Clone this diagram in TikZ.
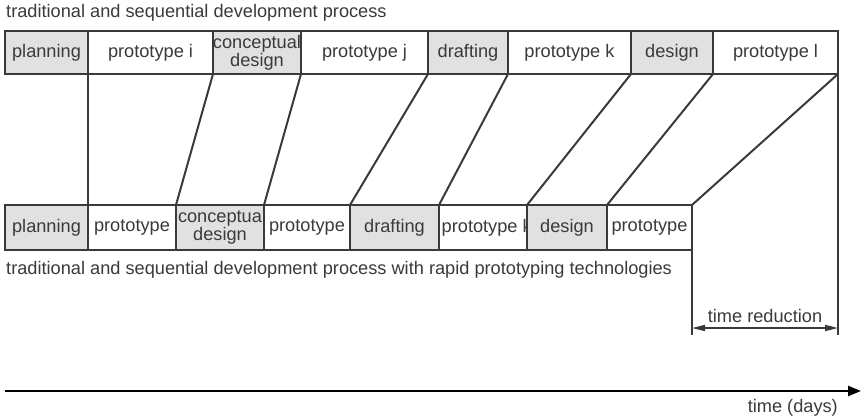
\documentclass[tikz,border=0pt]{standalone}
\usepackage{fontspec}
\setmainfont{Liberation Sans}
\usetikzlibrary{arrows.meta}
\definecolor{ink}{HTML}{3A3A3A}
\definecolor{phase}{HTML}{E1E1E1}
\definecolor{paper}{HTML}{FFFFFF}

% one cell of a process row: name, left x, width, top y, height, fill, text
\newcommand{\proccell}[7]{%
  \node[cellfill, fill=#6, minimum width=#3pt, minimum height=#5pt] (#1) at (#2,#4) {};
  \node[lbl] (#1-txt) at (#1.center) {#7};
}

\begin{document}
\begin{tikzpicture}[x=1pt,y=-1pt,
  cellfill/.style={inner sep=0pt, outer sep=0pt, anchor=north west, draw=none},
  lbl/.style={text=ink, font=\fontsize{18.2}{16}\selectfont, inner sep=0pt, align=center},
  caption/.style={text=ink, font=\fontsize{18.2}{16}\selectfont, inner sep=0pt},
  rule/.style={draw=ink, line width=2pt, line join=miter},
  link/.style={draw=ink, line width=2pt},
  span/.style={draw=ink, line width=1.6pt, {Triangle[length=13pt,width=6pt]}-{Triangle[length=13pt,width=6pt]}},
  axis/.style={draw=black, line width=2.4pt, -{Triangle[length=13pt,width=10pt]}}
]
\useasboundingbox (0,0) rectangle (861,418);

% sequential process without rapid prototyping
\node[caption, anchor=west] (toptitle) at (6,13) {traditional and sequential development process};
\proccell{t1}{5}{83}{31}{43}{phase}{planning}
\proccell{t2}{88}{125}{31}{43}{paper}{prototype i}
\proccell{t3}{213}{88}{31}{43}{phase}{conceptual\\design}
\proccell{t4}{301}{127}{31}{43}{paper}{prototype j}
\proccell{t5}{428}{80}{31}{43}{phase}{drafting}
\proccell{t6}{508}{123}{31}{43}{paper}{prototype k}
\proccell{t7}{631}{82}{31}{43}{phase}{design}
\proccell{t8}{713}{125}{31}{43}{paper}{prototype l}

% sequential process with rapid prototyping
\proccell{b1}{5}{83}{205}{45}{phase}{planning}
\proccell{b2}{88}{88}{205}{45}{paper}{prototype}
\proccell{b3}{176}{88}{205}{45}{phase}{conceptua\\design}
\proccell{b4}{264}{86}{205}{45}{paper}{prototype}
\proccell{b5}{350}{89}{205}{45}{phase}{drafting}
% this label runs under the right border of its cell
\node[cellfill, fill=paper, minimum width=88pt, minimum height=45pt] (b6) at (439,205) {};
\node[lbl, anchor=west] (b6-txt) at ([xshift=2.5pt]b6.west) {prototype k};
\proccell{b7}{527}{80}{205}{45}{phase}{design}
\proccell{b8}{607}{85}{205}{45}{paper}{prototype}
\node[caption, anchor=west] (bottitle) at (6,270) {traditional and sequential development process with rapid prototyping technologies};

% cell borders
\foreach \c in {t1,t2,t3,t4,t5,t6,t7,t8,b1,b2,b3,b4,b5,b6,b7,b8}
  \draw[rule] (\c.north west) rectangle (\c.south east);

% phase ends shifted earlier
\foreach \c in {1,...,8}
  \draw[link] (t\c.south east) -- (b\c.north east);

% time reduction
\coordinate (redL) at ([yshift=-85pt]b8.south east);
\coordinate (redR) at (redL -| t8.south east);
\draw[link] (b8.south east) -- (redL);
\draw[link] (t8.south east) -- (redR);
\draw[span] ([yshift=7pt]redL) -- ([yshift=7pt]redR)
  node[caption, midway, above=5pt] (redtxt) {time reduction};

% time axis
\coordinate (ax0) at (5,391);
\coordinate (ax1) at (861,391);
\draw[axis] (ax0) -- (ax1);
\node[caption, anchor=east] (axtxt) at (838,408) {time (days)};
\end{tikzpicture}
\end{document}
